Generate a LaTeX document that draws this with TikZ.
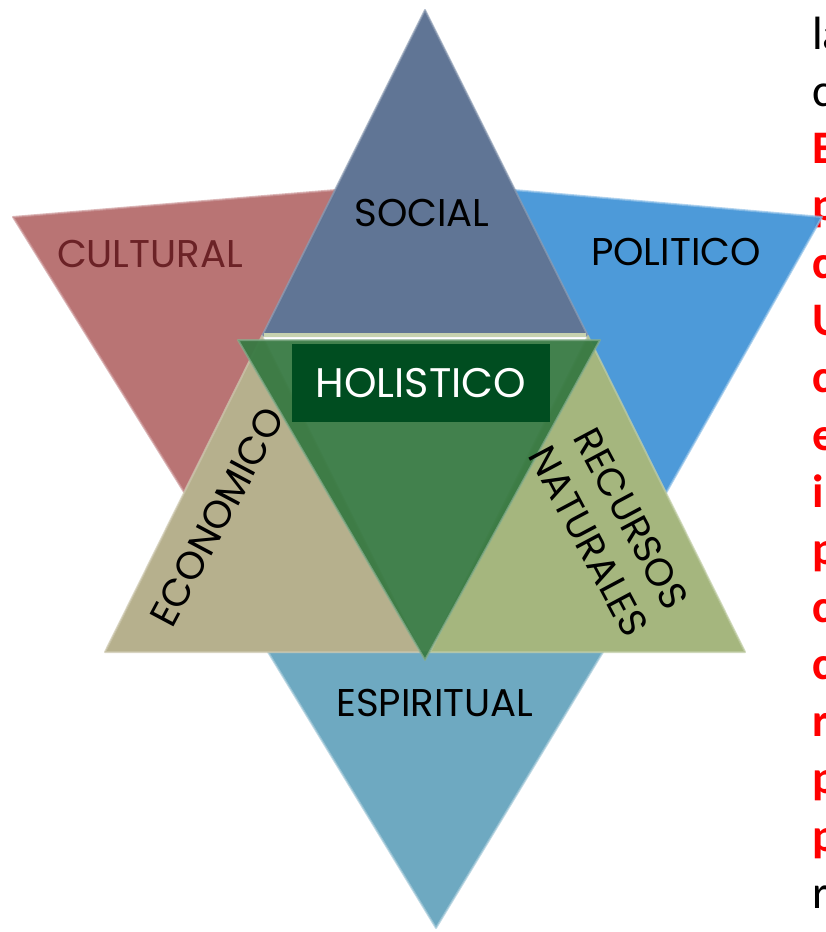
\documentclass[tikz,border=0pt]{standalone}
\usepackage{fontspec}
\setmainfont{Poppins}
\newfontfamily\sidefont{Carlito}
\definecolor{culturalcol}{HTML}{B76F70}
\definecolor{culturaltxt}{HTML}{6B2226}
\definecolor{politicocol}{HTML}{4797D8}
\definecolor{socialcol}{HTML}{5B7192}
\definecolor{espiritualcol}{HTML}{69A6BF}
\definecolor{economicocol}{HTML}{B4AD89}
\definecolor{recursoscol}{HTML}{A2B47A}
\definecolor{holisticocol}{HTML}{387A43}
\definecolor{holboxcol}{HTML}{004D20}
\definecolor{sidered}{HTML}{FF0000}
\tikzset{
  tri/.style={line width=1.5pt, line join=round, fill opacity=0.97, draw opacity=0.7},
  dimtext/.style={font=\fontsize{29}{36}\selectfont, inner sep=0pt, text=black},
  sidetext/.style={font=\sidefont\fontsize{35}{40}\selectfont, anchor=base west, inner sep=0pt}
}
\begin{document}
\begin{tikzpicture}[x=0.75pt,y=-0.75pt]
        \useasboundingbox (0,0) rectangle (825,932);
        \clip (0,0) rectangle (825,932);
        % text of the slide, cut at the right edge
        \node[sidetext, text=black] (side0) at (812,49) {la};
        \node[sidetext, text=black] (side1) at (812,106.3) {c};
        \foreach \ltr [count=\i from 2] in {E,p,c,U,c,e,i,p,c,c,r,p,p}
          \node[sidetext, text=sidered, font=\sidefont\bfseries\fontsize{35}{40}\selectfont] (side\i) at (812,49+57.3*\i) {\ltr};
        \node[sidetext, text=black] (side15) at (812,908.5) {r};
        % upper triangles
        \draw[tri, fill=culturalcol, draw=culturalcol!70!white] (13,217) -- (336,190) -- (184,492) -- cycle;
        \draw[tri, fill=politicocol, draw=politicocol!60!white] (514,190) -- (822,217) -- (666,493) -- cycle;
        \draw[tri, fill=socialcol, draw=socialcol!70!white] (425,10) -- (588,336) -- (262,336) -- cycle;
        \draw[line width=3pt, color=recursoscol!60!white] (264,335) -- (586,335);
        % lower triangles
        \draw[tri, fill=espiritualcol, draw=espiritualcol!60!white] (268,652) -- (603,652) -- (436,928) -- cycle;
        \draw[tri, fill=economicocol, draw=economicocol!70!white] (262,336) -- (420,652) -- (105,652) -- cycle;
        \draw[tri, fill=recursoscol, draw=recursoscol!70!white] (588,336) -- (745,652) -- (430,652) -- cycle;
        % centre
        \draw[tri, fill=holisticocol, fill opacity=0.95, draw=holisticocol!60!white] (238,340) -- (600,340) -- (425,660) -- cycle;
        \node[dimtext, fill=holboxcol, text=white, font=\fontsize{31}{36}\selectfont,
              minimum width=193.5pt, minimum height=58.5pt] (holistico) at (421,383) {HOLISTICO};
        % labels
        \node[dimtext, text=culturaltxt] (cultural) at (150,254) {CULTURAL};
        \node[dimtext] (social) at (422,213) {SOCIAL};
        \node[dimtext] (politico) at (676,252) {POLITICO};
        \node[dimtext] (espiritual) at (435,703) {ESPIRITUAL};
        \node[dimtext, rotate=62] (economico) at (217,517) {ECONOMICO};
        \node[dimtext, rotate=-62, align=center] (recursos) at (610,530) {RECURSOS\\NATURALES};
\end{tikzpicture}
\end{document}
